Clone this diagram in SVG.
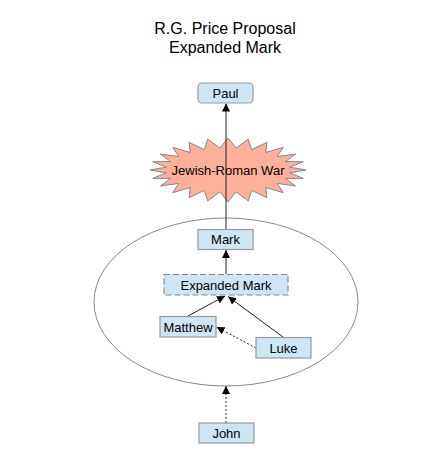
<svg xmlns="http://www.w3.org/2000/svg" width="445" height="470" viewBox="0 0 445 470">
<defs>
<style>
text{font-family:"Liberation Sans",Arial,sans-serif;fill:#000}
.t{font-size:16px;text-anchor:middle}
.l{font-size:13px;text-anchor:middle}
.box{fill:#d0e5f4;stroke:#9a9a9a;stroke-width:1.2}
.e{stroke:#222;stroke-width:1;fill:none}
.d{stroke-dasharray:2,2}
</style>
<marker id="ah" viewBox="0 0 10 10" refX="10" refY="5" markerWidth="8" markerHeight="8" markerUnits="userSpaceOnUse" orient="auto">
<path d="M0,0 L10,5 L0,10 z" fill="#000"/>
</marker>
</defs>
<rect width="445" height="470" fill="#fff"/>
<text class="t" x="225" y="34">R.G. Price Proposal</text>
<text class="t" x="225" y="53">Expanded Mark</text>
<g id="container">
<ellipse cx="226" cy="302" rx="132" ry="84" fill="none" stroke="#888" stroke-width="1"/>
</g>
<g id="war">
<polygon fill="#ffb09a" stroke="#888" stroke-width="1" points="306,170 289.5,172.9 303.3,178.3 285.3,178.4 295.5,186 277.2,183.4 283.2,192.6 265.7,187.5 267,197.7 251.7,190.3 248.2,200.9 236.1,191.8 228,202 219.9,191.8 207.8,200.9 204.3,190.3 189,197.7 190.3,187.5 172.8,192.6 178.8,183.4 160.5,186 170.7,178.4 152.7,178.3 166.5,172.9 150,170 166.5,167.1 152.7,161.7 170.7,161.6 160.5,154 178.8,156.6 172.8,147.4 190.3,152.5 189,142.3 204.3,149.7 207.8,139.1 219.9,148.2 228,138 236.1,148.2 248.2,139.1 251.7,149.7 267,142.3 265.7,152.5 283.2,147.4 277.2,156.6 295.5,154 285.3,161.6 303.3,161.7 289.5,167.1"/>
</g>
<g id="connectors">
<line class="e" x1="226" y1="229" x2="226" y2="103.5" marker-end="url(#ah)"/>
<line class="e" x1="226" y1="274" x2="226" y2="250" marker-end="url(#ah)"/>
<line class="e" x1="188" y1="316" x2="225" y2="296" marker-end="url(#ah)"/>
<line class="e" x1="283" y1="337" x2="228" y2="296.5" marker-end="url(#ah)"/>
<line class="e d" x1="256" y1="348" x2="216.5" y2="327" marker-end="url(#ah)"/>
<line class="e d" x1="226" y1="423" x2="226" y2="386" marker-end="url(#ah)"/>
</g>
<text class="l" x="228" y="174.5">Jewish-Roman War</text>
<g id="paul"><rect class="box" x="198" y="83" width="55" height="20" rx="4"/><text class="l" x="225.5" y="97.5">Paul</text></g>
<g id="mark"><rect class="box" x="198" y="229.5" width="55" height="20"/><text class="l" x="225.5" y="244">Mark</text></g>
<g id="expanded"><rect class="box" x="164" y="274.5" width="124" height="20.5" style="stroke:#888;stroke-dasharray:6,3"/><text class="l" x="226" y="289.5">Expanded Mark</text></g>
<g id="matthew"><rect class="box" x="160" y="316.5" width="56" height="20.5"/><text class="l" x="188" y="331.5">Matthew</text></g>
<g id="luke"><rect class="box" x="256" y="337.5" width="55" height="20.5"/><text class="l" x="283.5" y="352.5">Luke</text></g>
<g id="john"><rect class="box" x="199" y="423" width="55" height="20"/><text class="l" x="226.5" y="437.5">John</text></g>
</svg>
